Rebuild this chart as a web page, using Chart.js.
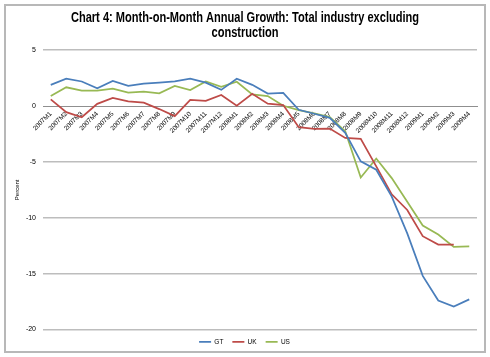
<!DOCTYPE html>
<html>
<head>
<meta charset="utf-8">
<script src="https://cdn.jsdelivr.net/npm/chart.js@4"></script>
<style>
html,body{margin:0;padding:0;background:#fff;}
canvas{display:block;}
</style>
</head>
<body>
<canvas id="c" width="490" height="357"></canvas>
<script>
const categories = ["2007M1","2007M2","2007M3","2007M4","2007M5","2007M6","2007M7","2007M8","2007M9","2007M10","2007M11","2007M12",
  "2008M1","2008M2","2008M3","2008M4","2008M5","2008M6","2008M7","2008M8","2008M9","2008M10","2008M11","2008M12",
  "2009M1","2009M2","2009M3","2009M4"];
const gtValues = [1.9, 2.45, 2.2, 1.6, 2.25, 1.8, 2.0, 2.1, 2.2, 2.45, 2.1, 1.45, 2.45, 1.9, 1.12, 1.17, -0.33, -0.69, -1.05, -2.4, -4.95, -5.7, -8.1, -11.4, -15.2, -17.4, -17.95, -17.3];
const ukValues = [0.6, -0.55, -1.0, 0.2, 0.72, 0.42, 0.3, -0.27, -0.9, 0.55, 0.47, 0.99, 0.03, 1.1, 0.21, 0.09, -1.89, -2.04, -2.01, -2.85, -2.94, -5.4, -7.9, -9.3, -11.65, -12.4, -12.4, null];
const usValues = [0.9, 1.68, 1.38, 1.38, 1.56, 1.2, 1.29, 1.14, 1.8, 1.44, 2.2, 1.72, 2.18, 1.05, 0.9, 0.03, -0.37, -0.66, -0.99, -2.25, -6.4, -4.7, -6.45, -8.56, -10.7, -11.5, -12.6, -12.55];
const seriesNames = ["GT", "UK", "US"];
const yTicks = [-20, -15, -10, -5, 0, 5];
const titleLines = ["Chart 4: Month-on-Month Annual Growth: Total industry excluding", "construction"];

const colors = ["#4a7ebb", "#be4b48", "#98b954"];
const sans = "'Liberation Sans', Arial, sans-serif";

const borderPlugin = {
  id: 'outerBorder',
  beforeDraw(chart) {
    const ctx = chart.ctx;
    ctx.save();
    ctx.fillStyle = '#fff';
    ctx.fillRect(0, 0, chart.width, chart.height);
    ctx.strokeStyle = '#b8b8b8';
    ctx.lineWidth = 2;
    ctx.strokeRect(5, 5, 480, 347);
    ctx.restore();
  }
};

// draws the title text in a condensed (horizontally narrowed) form inside the title box reserved by the title plugin
const narrowTitle = {
  id: 'narrowTitle',
  afterDraw(chart) {
    const t = chart.titleBlock;
    if (!t) return;
    const ctx = chart.ctx;
    const sx = 0.79;
    const lh = 15.6;
    ctx.save();
    ctx.font = "bold 14px " + sans;
    ctx.fillStyle = '#000';
    ctx.textAlign = 'center';
    ctx.textBaseline = 'middle';
    ctx.translate(chart.width / 2, 0);
    ctx.scale(sx, 1);
    titleLines.forEach((line, i) => {
      ctx.fillText(line, 0, t.top + 4 + lh / 2 + i * lh + 1);
    });
    ctx.restore();
  }
};

const mk = (name, data, color) => ({
  label: name, data, borderColor: color, backgroundColor: color,
  borderWidth: 1.75, pointRadius: 0, pointHoverRadius: 0, pointStyle: 'line',
  tension: 0, fill: false, spanGaps: false
});

new Chart(document.getElementById('c'), {
  type: 'line',
  data: {
    labels: categories,
    datasets: [mk(seriesNames[0], gtValues, colors[0]), mk(seriesNames[1], ukValues, colors[1]), mk(seriesNames[2], usValues, colors[2])]
  },
  options: {
    responsive: false,
    animation: false,
    events: [],
    layout: { padding: { left: 12, right: 13, top: 5, bottom: 2 } },
    plugins: {
      title: {
        display: true, text: titleLines, color: 'rgba(0,0,0,0)',
        font: { family: sans, size: 13, weight: 'bold', lineHeight: 1.2 },
        padding: { top: 4, bottom: 10 }
      },
      legend: {
        display: true, position: 'bottom',
        labels: {
          usePointStyle: true, pointStyleWidth: 12, color: '#000',
          font: { family: sans, size: 6.5 }, padding: 9, boxHeight: 7
        }
      },
      tooltip: { enabled: false }
    },
    scales: {
      x: {
        type: 'category', position: { y: 0 }, offset: true,
        grid: { display: false, drawTicks: false },
        border: { display: true, color: '#8f8f8f', width: 1 },
        ticks: { autoSkip: false, minRotation: 45, maxRotation: 45, padding: 4, color: '#000', font: { family: sans, size: 6.5 } }
      },
      y: {
        min: -20, max: 5,
        afterFit(scale) { scale.width = 31; },
        afterBuildTicks(scale) { scale.ticks = yTicks.map(v => ({ value: v })); },
        grid: {
          color: c => (c.tick && c.tick.value === 0) ? 'rgba(0,0,0,0)' : '#bdbdbd',
          lineWidth: 1.5, drawTicks: false
        },
        border: { display: false },
        ticks: { padding: 7, color: '#000', font: { family: sans, size: 7 } },
        title: { display: true, text: 'Percent', color: '#000', font: { family: sans, size: 6 }, padding: { top: 2, bottom: 0 } }
      }
    }
  },
  plugins: [borderPlugin, narrowTitle]
});
</script>
</body>
</html>
